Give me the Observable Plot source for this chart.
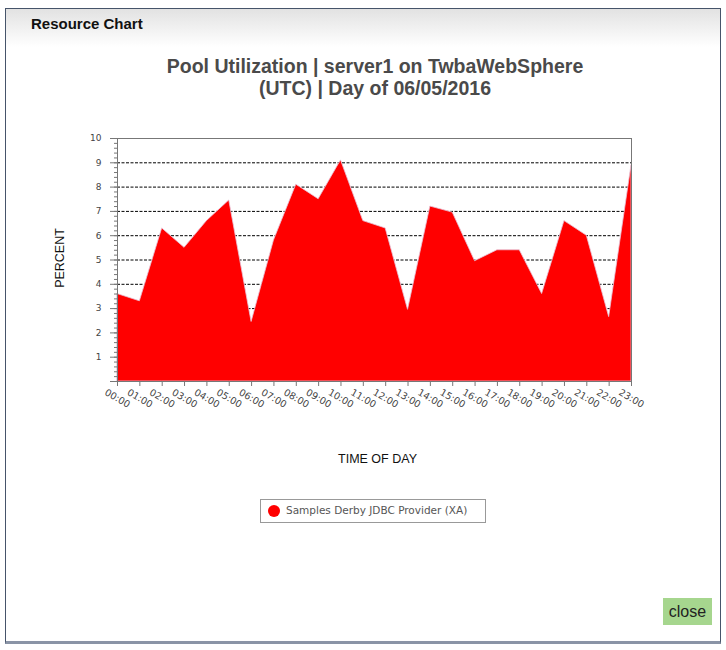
<!DOCTYPE html>
<html><head><meta charset="utf-8">
<script src="https://cdn.jsdelivr.net/npm/d3@7"></script>
<script src="https://cdn.jsdelivr.net/npm/@observablehq/plot@0.6"></script>
<style>
html,body{margin:0;padding:0;background:#fff;}
#page{position:relative;width:726px;height:650px;overflow:hidden;font-family:"Liberation Sans",Arial,sans-serif;}
#dialog{position:absolute;left:5px;top:8px;width:716px;height:636px;border:1px solid #46546a;border-bottom:3px solid #8a94a6;box-sizing:border-box;background:#fff;}
#header{position:absolute;left:0;top:0;right:0;height:38px;background:linear-gradient(#e2e2e2,#ffffff);}
#header span{position:absolute;left:25px;top:6px;font-weight:bold;font-size:15px;color:#111;}
#title{position:absolute;left:0;width:750px;top:55px;text-align:center;font-weight:bold;font-size:19.5px;line-height:22px;color:#4a4a4a;}
#chart{position:absolute;left:0;top:120px;}
#ylab{position:absolute;left:60px;top:258px;transform:translate(-50%,-50%) rotate(-90deg);font-size:12.5px;color:#111;white-space:nowrap;}
#xlab{position:absolute;left:0;width:755px;top:452px;text-align:center;font-size:12.5px;color:#111;}
#legend{position:absolute;left:260px;top:499px;width:226px;height:24px;border:1px solid #999;box-sizing:border-box;font-family:"DejaVu Sans",sans-serif;font-size:10.5px;color:#555;}
#legend i{position:absolute;left:7px;top:5px;width:12px;height:12px;border-radius:50%;background:#ff0000;}
#legend span{position:absolute;left:25px;top:4px;}
#close{position:absolute;left:663px;top:598px;width:49px;height:27px;background:#a6d68e;font-size:16px;color:#222;text-align:center;line-height:27px;}
</style></head>
<body><div id="page">
<div id="dialog"><div id="header"><span>Resource Chart</span></div></div>
<div id="title">Pool Utilization | server1 on TwbaWebSphere<br>(UTC) | Day of 06/05/2016</div>
<div id="chart"></div>
<div id="ylab">PERCENT</div>
<div id="xlab">TIME OF DAY</div>
<div id="legend"><i></i><span>Samples Derby JDBC Provider (XA)</span></div>
<div id="close">close</div>
</div>
<script>
const hourLabels = ["00:00","01:00","02:00","03:00","04:00","05:00","06:00","07:00","08:00","09:00","10:00","11:00","12:00","13:00","14:00","15:00","16:00","17:00","18:00","19:00","20:00","21:00","22:00","23:00"];
const percentValues = [3.6,3.3,6.3,5.5,6.6,7.45,2.45,5.8,8.1,7.5,9.1,6.6,6.3,2.95,7.2,6.95,4.95,5.4,5.4,3.6,6.6,6.0,2.65,8.9];
const yTicks = [0,1,2,3,4,5,6,7,8,9,10];
const gridValues = [1,2,3,4,5,6,7,8,9];

const hours = hourLabels.map((_, i) => i);
const data = hourLabels.map((h, i) => ({hour: i, label: h, value: percentValues[i]}));
const minorTicks = d3.range(0, 51).map(i => i / 5);

const chart = Plot.plot({
  width: 726,
  height: 360,
  marginLeft: 117,
  marginRight: 95,
  marginTop: 18,
  marginBottom: 99,
  style: {fontFamily: "DejaVu Sans, sans-serif", fontSize: "9px", color: "#444", background: "transparent"},
  x: {type: "linear", domain: [0, 23], axis: null},
  y: {domain: [0, 10], axis: null},
  marks: [
    Plot.ruleY(gridValues, {stroke: "#000", strokeWidth: 1, strokeDasharray: "3,1.5"}),
    Plot.areaY(data, {x: "hour", y: "value", fill: "#ff0000", stroke: "#e8c4d8", strokeWidth: 0.8}),
    Plot.frame({stroke: "#777", strokeWidth: 1}),
    Plot.axisY({ticks: minorTicks, tickSize: 3, tickFormat: () => "", stroke: "#777", label: null}),
    Plot.axisY({ticks: yTicks, tickSize: 7, tickPadding: 9, tickFormat: d => d === 0 ? "" : String(d), stroke: "#777", fill: "#444", label: null}),
    Plot.axisX({ticks: hours, tickSize: 5, tickFormat: () => "", stroke: "#777", label: null}),
    Plot.text(data, {x: "hour", y: 0, text: "label", rotate: 30, dy: 17, textAnchor: "middle", fill: "#444", fontSize: 9.5})
  ]
});
document.getElementById("chart").appendChild(chart);
</script>
</body></html>
